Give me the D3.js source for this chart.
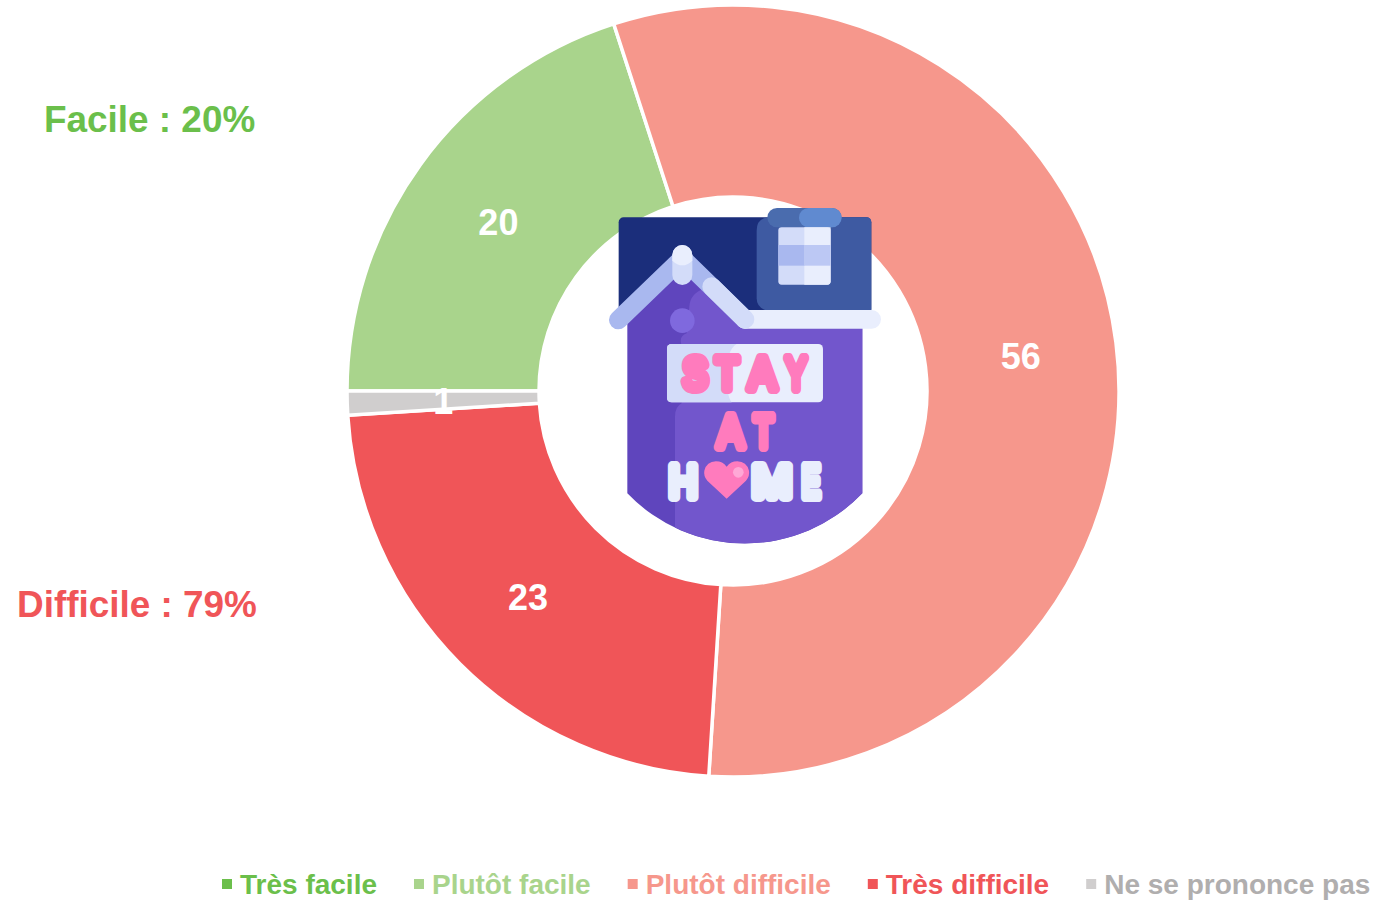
<!DOCTYPE html>
<html>
<head>
<meta charset="utf-8">
<script src="https://d3js.org/d3.v7.min.js"></script>
<style>
html,body{margin:0;padding:0;background:#fff;overflow:hidden;}
svg{display:block;}
text{font-family:"Liberation Sans",Arial,sans-serif;font-weight:bold;}
</style>
</head>
<body>
<script>
const categories = ['Très facile','Plutôt facile','Plutôt difficile','Très difficile','Ne se prononce pas'];
const values = [0,20,56,23,1];
const sliceColors = ['#6bbf4b','#a9d48c','#f6978c','#f05558','#d0cece'];
const legendTextColors = ['#6bbf4b','#a9d48c','#f6978c','#f05558','#b0aeae'];
const groupLabels = ['Facile : 20%','Difficile : 79%'];
const groupColors = ['#6bbf4b','#f05558'];

const width = 1376;
const height = 900;
const cx = 733;
const cy = 391;
const outer = 386;
const inner = 194;

const svg = d3.select('body').append('svg')
    .attr('width',width)
    .attr('height',height);

// donut
const pie = d3.pie()
    .sort(null)
    .startAngle(-Math.PI/2)
    .endAngle(Math.PI*1.5);
const arc = d3.arc().innerRadius(inner).outerRadius(outer);
const slices = pie(values).map((d,i)=>({...d,i})).filter(d=>d.value>0);

const donut = svg.append('g').attr('transform',`translate(${cx},${cy})`);
donut.selectAll('path')
    .data(slices)
    .enter()
  .append('path')
    .attr('d',arc)
    .attr('fill',d=>sliceColors[d.i])
    .attr('stroke','#fff')
    .attr('stroke-width',3.5);
donut.selectAll('text')
    .data(slices)
    .enter()
  .append('text')
    .attr('transform',d=>`translate(${arc.centroid(d)})`)
    .attr('text-anchor','middle')
    .attr('dy','0.39em')
    .attr('font-size',36)
    .attr('fill','#fff')
    .text(d=>d.value);

// side labels
svg.append('text').attr('x',44).attr('y',132).attr('font-size',36.9)
    .attr('fill',groupColors[0]).text(groupLabels[0]);
svg.append('text').attr('x',17).attr('y',617).attr('font-size',36.9)
    .attr('fill',groupColors[1]).text(groupLabels[1]);

// legend, laid out left to right
let legendX = 222;
categories.forEach((c,i)=>{
  svg.append('rect')
      .attr('x',legendX).attr('y',879)
      .attr('width',10).attr('height',10)
      .attr('fill',sliceColors[i]);
  const t = svg.append('text')
      .attr('x',legendX+18).attr('y',894)
      .attr('font-size',28)
      .attr('fill',legendTextColors[i])
      .text(c);
  legendX += 18 + t.node().getComputedTextLength() + 37;
});

// centre icon, drawn in zoomed units (3 units = 1px)
const icon = svg.append('g').attr('transform','translate(590,190) scale(0.3333)');
const add = (tag,attrs)=>{
  const el = icon.append(tag);
  Object.entries(attrs).forEach(([k,v])=>el.attr(k,v));
  return el;
};
const pill = (x1,y1,x2,y2,w,color)=>add('line',{x1,y1,x2,y2,stroke:color,'stroke-width':w,'stroke-linecap':'round'});

add('rect',{x:86,y:82,width:758,height:290,rx:15,fill:'#1b2e7b'});
add('path',{d:'M844,360 L844,97 Q844,82 829,82 L540,82 Q500,82 500,122 L500,325 Q500,350 525,360 Z',fill:'#3e5aa2'});
add('rect',{x:532,y:54,width:223,height:58,rx:29,fill:'#4a6cae'});
add('rect',{x:627,y:54,width:128,height:58,rx:29,fill:'#608ad0'});

// chimney window
add('rect',{x:565,y:112,width:157,height:172,rx:10,fill:'#d3dcf9'});
add('path',{d:'M643,112 L722,112 L722,274 Q722,284 712,284 L643,284 Z',fill:'#e9eefd'});
add('rect',{x:565,y:165,width:79,height:62,fill:'#a9b8ef'});
add('rect',{x:643,y:165,width:79,height:62,fill:'#bcc8f4'});

// house body
add('path',{d:'M112,910 A488,488 0 0 0 817,910 L817,400 L460,400 L277,240 L112,390 Z',fill:'#5f45bd'});
add('path',{d:'M255,1012.7 A488,488 0 0 0 817,910 L817,400 L460,400 L345,295 Q300,310 298,350 L290,430 Q265,440 275,465 L275,640 Q255,650 255,680 Z',fill:'#7256cc'});
add('circle',{cx:277,cy:392,r:37,fill:'#7f69de'});

// roof
pill(85,390,277,205,56,'#a9b8ef');
pill(277,205,465,388,56,'#a9b8ef');
pill(465,388,845,388,56,'#e9eefd');
pill(365,290,465,388,56,'#d3dcf9');
pill(277,195,277,255,60,'#d3dcf9');
add('path',{d:'M247,195 A30,30 0 0 1 307,195 L307,212 Q277,240 247,212 Z',fill:'#e9eefd'});

// sign
add('rect',{x:231,y:462,width:468,height:175,rx:14,fill:'#e9eefd'});
add('path',{d:'M245,462 L440,462 Q410,480 410,550 Q410,620 425,637 L245,637 Q231,637 231,623 L231,476 Q231,462 245,462 Z',fill:'#d3dcf9'});

// each sign letter sits in its own box so the rounded strokes stay apart
const iconStroke = 30;
const iconLetter = (s,x1,x2,yBase,capH,color)=>add('text',{
    x:x1+iconStroke/2,y:yBase-iconStroke/2,
    textLength:x2-x1-iconStroke,
    lengthAdjust:'spacingAndGlyphs',
    'font-size':(capH-iconStroke)/0.716,
    fill:color,stroke:color,'stroke-width':iconStroke,'stroke-linejoin':'round',
    style:'font-family:"Liberation Sans",sans-serif;font-weight:400;'
  }).text(s);

iconLetter('S',264,368,612,125,'#ff7bbd');
iconLetter('T',362,460,612,125,'#ff7bbd');
iconLetter('A',462,572,612,125,'#ff7bbd');
iconLetter('Y',572,664,612,125,'#ff7bbd');
iconLetter('A',368,474,786,126,'#ff7bbd');
iconLetter('T',476,564,786,126,'#ff7bbd');
iconLetter('H',222,337,936,127,'#e9eefd');
iconLetter('M',472,620,936,127,'#e9eefd');
iconLetter('E',620,706,936,127,'#e9eefd');

// heart in place of the O
add('path',{d:'M410,926 L352,872 Q340,858 343,842 Q350,815 378,814 Q398,814 410,830 Q422,814 442,814 Q470,815 477,842 Q480,858 468,872 Z',fill:'#ff7bbd'});
add('circle',{cx:445,cy:847,r:16,fill:'#ffa8d6'});
</script>
</body>
</html>
